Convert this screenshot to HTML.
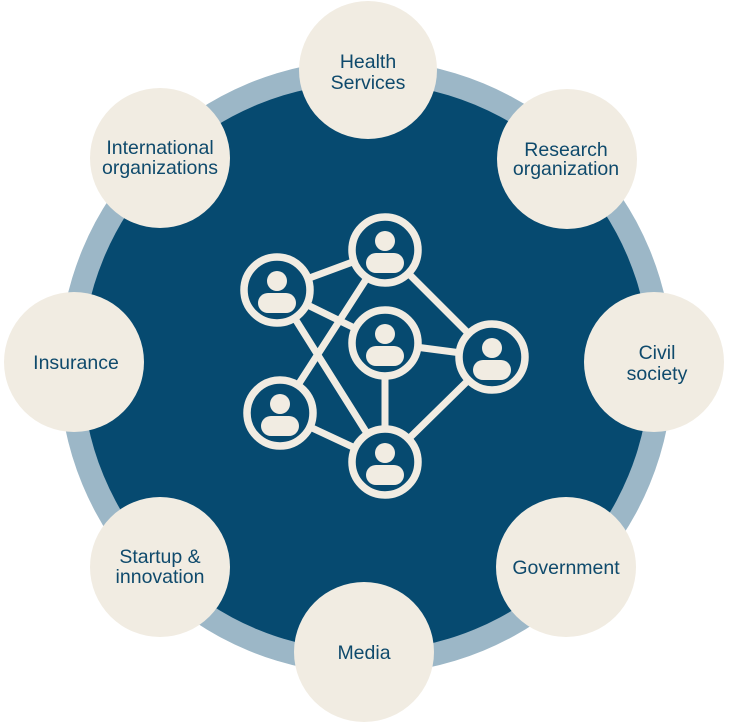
<!DOCTYPE html>
<html><head><style>
html,body{margin:0;padding:0;background:#fff;}
svg{display:block;}
text{font-family:"Liberation Sans",sans-serif;font-size:19.5px;fill:#0f4a6c;text-anchor:middle;}
</style></head><body>
<svg width="731" height="728" viewBox="0 0 731 728" xmlns="http://www.w3.org/2000/svg">
<circle cx="366" cy="367" r="307" fill="#9cb7c7"/>
<circle cx="366" cy="367" r="284" fill="#064a70"/>
<g stroke="#f1ece2" stroke-width="7" fill="none" stroke-linecap="round">
<line x1="277" y1="290" x2="385" y2="250"/>
<line x1="277" y1="290" x2="385" y2="343"/>
<line x1="277" y1="290" x2="385" y2="462"/>
<line x1="385" y1="250" x2="280" y2="413"/>
<line x1="385" y1="250" x2="492" y2="357"/>
<line x1="385" y1="343" x2="492" y2="357"/>
<line x1="385" y1="343" x2="385" y2="462"/>
<line x1="280" y1="413" x2="385" y2="462"/>
<line x1="492" y1="357" x2="385" y2="462"/>
</g>
<g fill="#064a70" stroke="#f1ece2" stroke-width="7.5">
<circle cx="385" cy="250" r="33"/><circle cx="277" cy="290" r="33"/><circle cx="385" cy="343" r="33"/>
<circle cx="492" cy="357" r="33"/><circle cx="280" cy="413" r="33"/><circle cx="385" cy="462" r="33"/>
</g>
<g fill="#f1ece2">
<g transform="translate(385,250)"><circle cx="0" cy="-9" r="10"/><rect x="-19" y="3" width="38" height="20" rx="10"/></g>
<g transform="translate(277,290)"><circle cx="0" cy="-9" r="10"/><rect x="-19" y="3" width="38" height="20" rx="10"/></g>
<g transform="translate(385,343)"><circle cx="0" cy="-9" r="10"/><rect x="-19" y="3" width="38" height="20" rx="10"/></g>
<g transform="translate(492,357)"><circle cx="0" cy="-9" r="10"/><rect x="-19" y="3" width="38" height="20" rx="10"/></g>
<g transform="translate(280,413)"><circle cx="0" cy="-9" r="10"/><rect x="-19" y="3" width="38" height="20" rx="10"/></g>
<g transform="translate(385,462)"><circle cx="0" cy="-9" r="10"/><rect x="-19" y="3" width="38" height="20" rx="10"/></g>
</g>
<g fill="#f1ece2">
<circle cx="368" cy="70" r="69"/>
<circle cx="567" cy="159" r="70"/>
<circle cx="654" cy="362" r="70"/>
<circle cx="566" cy="567" r="70"/>
<circle cx="364" cy="652" r="70"/>
<circle cx="160" cy="567" r="70"/>
<circle cx="74" cy="362" r="70"/>
<circle cx="160" cy="158" r="70"/>
</g>
<text x="368" y="68">Health</text><text x="368" y="89">Services</text>
<text x="566" y="156">Research</text><text x="566" y="175">organization</text>
<text x="657" y="359">Civil</text><text x="657" y="380">society</text>
<text x="566" y="574">Government</text>
<text x="364" y="659">Media</text>
<text x="160" y="563">Startup &amp;</text><text x="160" y="583">innovation</text>
<text x="76" y="369">Insurance</text>
<text x="160" y="154">International</text><text x="160" y="174">organizations</text>
</svg>
</body></html>
